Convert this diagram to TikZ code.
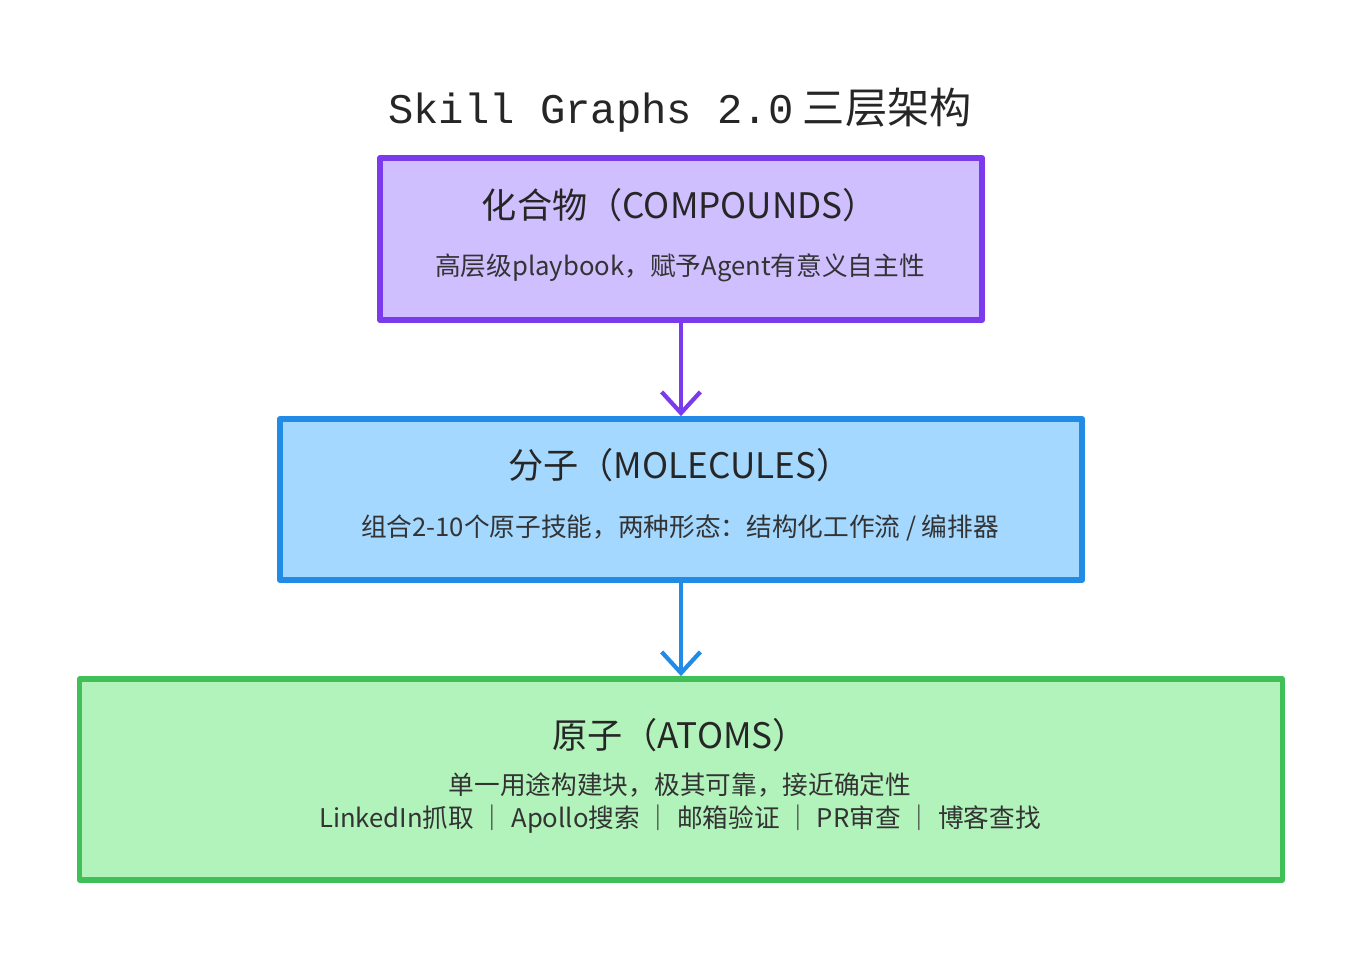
\documentclass[tikz,border=0pt]{standalone}
\usepackage{fontspec}
\setmainfont{Noto Sans CJK SC}
\newfontfamily\monofnt{Liberation Mono}
\usetikzlibrary{positioning,arrows.meta}
\definecolor{cmpFill}{HTML}{D0BFFF}
\definecolor{cmpLine}{HTML}{7C3AED}
\definecolor{molFill}{HTML}{A5D8FF}
\definecolor{molLine}{HTML}{228BE6}
\definecolor{atmFill}{HTML}{B2F2BB}
\definecolor{atmLine}{HTML}{40C057}
\begin{document}
\begin{tikzpicture}
  [x=0.01cm,y=-0.01cm,
   layerN/.style={draw,line width=1.6pt,line join=round,inner sep=0pt},
   headT/.style={font=\fontsize{10}{12}\selectfont,text=black!85},
   subT/.style={font=\fontsize{7.3}{9.5}\selectfont,text=black!80,align=center},
   linkA/.style={line width=1.2pt,-{Straight Barb[length=6pt,width=11pt]}}]

  \useasboundingbox (0,0) rectangle (1360,960);

  \node[font=\fontsize{12}{14}\selectfont,text=black!85] (title) at (680,110)
    {{\monofnt Skill Graphs 2.0} 三层架构};

  % layers
  \node[layerN,fill=cmpFill,draw=cmpLine,minimum width=6.02cm,minimum height=1.62cm] (comp) at (681,239) {};
  \node[layerN,fill=molFill,draw=molLine,minimum width=8.02cm,minimum height=1.61cm] (mol) at (681,499.5) {};
  \node[layerN,fill=atmFill,draw=atmLine,minimum width=12.02cm,minimum height=2.01cm] (atom) at (681,779.5) {};

  \node[headT] (compH) at (680,205) {化合物（COMPOUNDS）};
  \node[subT] (compS) at (680,268) {高层级playbook，赋予Agent有意义自主性};

  \node[headT] (molH) at (680,465) {分子（MOLECULES）};
  \node[subT] (molS) at (680,528) {组合2-10个原子技能，两种形态：结构化工作流 / 编排器};

  \node[headT] (atomH) at (680,735) {原子（ATOMS）};
  \node[subT] (atomS) at (680,803)
    {单一用途构建块，极其可靠，接近确定性\\
     LinkedIn抓取 ｜ Apollo搜索 ｜ 邮箱验证 ｜ PR审查 ｜ 博客查找};

  \draw[linkA,cmpLine] (comp) -- (mol);
  \draw[linkA,molLine] (mol) -- (atom);
\end{tikzpicture}
\end{document}
